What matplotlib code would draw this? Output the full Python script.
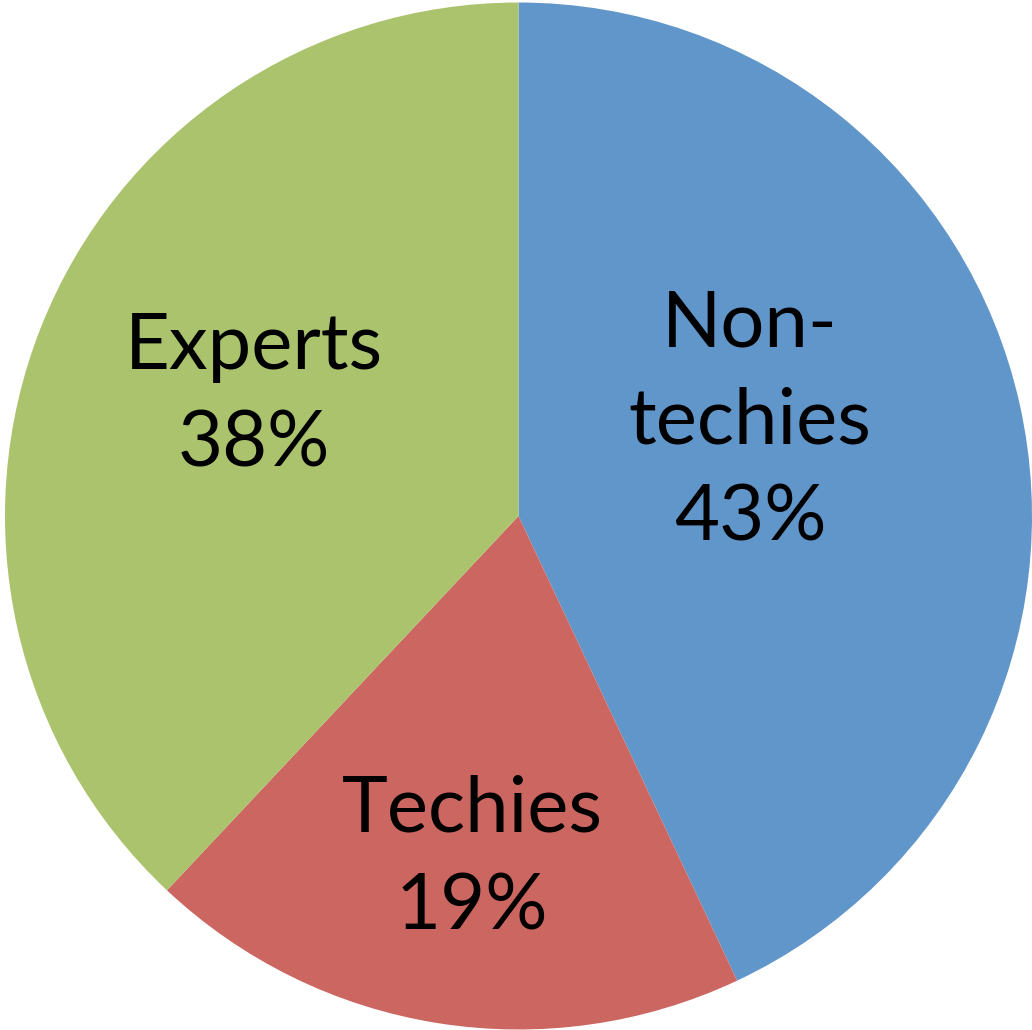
import matplotlib
matplotlib.use("Agg")
import matplotlib.pyplot as plt

# audience breakdown
groups = ["Non-\ntechies", "Techies", "Experts"]
shares = [43, 19, 38]
colors = ["#6096C9", "#CC6661", "#AAC36C"]

W, H = 1032, 1030
fig = plt.figure(figsize=(W / 100, H / 100), dpi=100)
ax = fig.add_axes([0, 0, 1, 1])

cx, cy, r = 518.5, H - 516, 513.5
ax.pie(shares, colors=colors, startangle=90, counterclock=False,
       radius=r, center=(cx, cy), frame=True,
       wedgeprops=dict(linewidth=0, antialiased=True))
ax.set_xlim(0, W)
ax.set_ylim(0, H)
ax.set_aspect("equal")
ax.axis("off")

# label anchors (pixel centres of each text block)
label_pos = [(750, H - 422), (472, H - 859), (254, H - 396)]
for name, pct, (x, y) in zip(groups, shares, label_pos):
    ax.text(x, y, f"{name}\n{pct}%", ha="center", va="center",
            multialignment="center", fontsize=56, family="Lato",
            linespacing=1.46, color="black")

fig.savefig("out.png", dpi=100)
